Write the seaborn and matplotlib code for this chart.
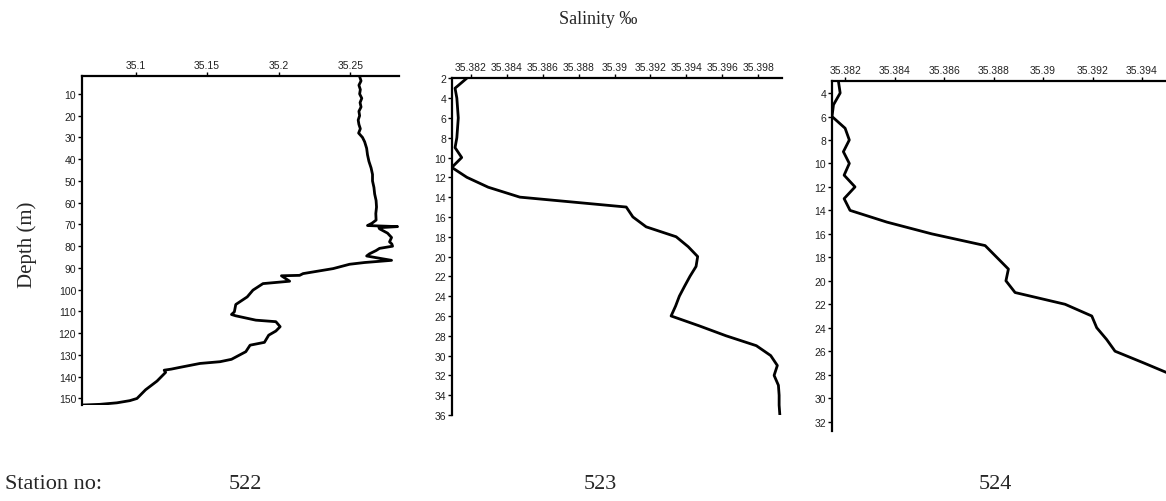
import matplotlib
matplotlib.use("Agg")
import matplotlib.pyplot as plt
import seaborn as sns

# ---------------- data ----------------
# Station 522
depth_522 = [2, 4, 6, 8, 10, 12, 14, 16, 18, 20, 22, 24, 26, 28, 30, 32, 35, 38, 41, 44,
             47, 50, 53, 56, 59, 62, 65, 68, 69.5, 70.5, 71, 71.5, 72, 74, 76, 78, 79, 80,
             81, 82, 83.5, 84.5, 85.5, 86.5, 87.5, 88.3, 90.3, 92.6, 93.4, 93.6, 96.1, 97.2,
             100.2, 103.3, 106.8, 110.2, 111.4, 112, 114, 114.7, 117, 119, 120.9, 124.2,
             125.5, 128.5, 132, 133.1, 133.9, 135.7, 136.5, 137, 138, 140, 142, 144, 146,
             148, 150, 151, 152, 152.7, 153]
sal_522 = [35.2565, 35.2575, 35.2560, 35.2570, 35.2565, 35.2580, 35.2568, 35.2575, 35.2560,
           35.2565, 35.2555, 35.2560, 35.2570, 35.2558, 35.2585, 35.2600, 35.2614, 35.2620,
           35.2630, 35.2645, 35.2655, 35.2655, 35.2665, 35.2670, 35.2680, 35.2683, 35.2678,
           35.2680, 35.2650, 35.2620, 35.2830, 35.2700, 35.2704, 35.2760, 35.2788, 35.2774,
           35.2790, 35.2795, 35.2704, 35.2680, 35.2634, 35.2614, 35.2700, 35.2788, 35.2600,
           35.2495, 35.2380, 35.2170, 35.2146, 35.2019, 35.2076, 35.1890, 35.1820, 35.1780,
           35.1700, 35.1690, 35.1670, 35.1700, 35.1840, 35.1980, 35.2010, 35.1980, 35.1930,
           35.1900, 35.1800, 35.1770, 35.1670, 35.1590, 35.1450, 35.1310, 35.1250, 35.1200,
           35.1210, 35.1180, 35.1150, 35.1110, 35.1070, 35.1040, 35.1010, 35.0960, 35.0870,
           35.0750, 35.0630]

# Station 523
depth_523 = [2, 3, 4, 5, 6, 7, 8, 9, 10, 11, 12, 13, 14, 15, 16, 17, 18, 19, 20, 21, 22,
             23, 24, 25, 26, 27, 28, 29, 30, 31, 32, 33, 34, 35, 36]
sal_523 = [35.38176, 35.38111, 35.38121, 35.38125, 35.38129, 35.38125, 35.38121, 35.38111,
           35.38148, 35.38093, 35.38177, 35.38296, 35.38472, 35.39065, 35.39102, 35.39176,
           35.39343, 35.39410, 35.39463, 35.39454, 35.39420, 35.39390, 35.39361, 35.39340,
           35.39315, 35.39472, 35.39621, 35.39790, 35.39870, 35.39907, 35.39889, 35.39913,
           35.39917, 35.39917, 35.39921]

# Station 524
depth_524 = [3, 4, 5, 6, 7, 8, 9, 10, 11, 12, 13, 14, 15, 16, 17, 18, 19, 20, 21, 22, 23,
             24, 25, 26, 27, 28]
sal_524 = [35.38173, 35.38180, 35.38153, 35.38147, 35.38200, 35.38217, 35.38193, 35.38217,
           35.38196, 35.38240, 35.38196, 35.38220, 35.38369, 35.38550, 35.38766, 35.38813,
           35.38860, 35.38850, 35.38887, 35.39089, 35.39197, 35.39217, 35.39257, 35.39291,
           35.39407, 35.39520]

xticks_522 = [35.1, 35.15, 35.2, 35.25]
xlabels_522 = ["35.1", "35.15", "35.2", "35.25"]
yticks_522 = [10, 20, 30, 40, 50, 60, 70, 80, 90, 100, 110, 120, 130, 140, 150]

xticks_523 = [35.382, 35.384, 35.386, 35.388, 35.39, 35.392, 35.394, 35.396, 35.398]
xlabels_523 = ["35.382", "35.384", "35.386", "35.388", "35.39", "35.392", "35.394",
               "35.396", "35.398"]
yticks_523 = [2, 4, 6, 8, 10, 12, 14, 16, 18, 20, 22, 24, 26, 28, 30, 32, 34, 36]

xticks_524 = [35.382, 35.384, 35.386, 35.388, 35.39, 35.392, 35.394]
xlabels_524 = ["35.382", "35.384", "35.386", "35.388", "35.39", "35.392", "35.394"]
yticks_524 = [4, 6, 8, 10, 12, 14, 16, 18, 20, 22, 24, 26, 28, 30, 32]

stations = ["522", "523", "524"]

# ---------------- figure ----------------
sns.set_style("ticks")
plt.rcParams['font.family'] = ['Liberation Sans', 'DejaVu Sans']

W, H = 1166, 502
fig = plt.figure(figsize=(W / 100, H / 100), dpi=100)


def px_axes(left, right, top, bottom):
    return [left / W, 1 - bottom / H, (right - left) / W, (bottom - top) / H]


panels = [
    dict(rect=px_axes(82, 399, 77.3, 406), depth=depth_522, sal=sal_522,
         xlim=(35.0626, 35.284), ylim=(153, 1.9),
         xt=xticks_522, xl=xlabels_522, yt=yticks_522),
    dict(rect=px_axes(452, 782, 79.3, 416), depth=depth_523, sal=sal_523,
         xlim=(35.38094, 35.39933), ylim=(36, 2),
         xt=xticks_523, xl=xlabels_523, yt=yticks_523),
    dict(rect=px_axes(832, 1166, 82.3, 432), depth=depth_524, sal=sal_524,
         xlim=(35.38147, 35.39497), ylim=(32.8, 3),
         xt=xticks_524, xl=xlabels_524, yt=yticks_524),
]

for p in panels:
    ax = fig.add_axes(p["rect"])
    sns.lineplot(x=p["sal"], y=p["depth"], ax=ax, color="black", linewidth=2.0,
                 estimator=None, sort=False)
    ax.set_xlim(*p["xlim"])
    ax.set_ylim(*p["ylim"])
    ax.xaxis.tick_top()
    ax.set_xticks(p["xt"])
    ax.set_xticklabels(p["xl"])
    ax.set_yticks(p["yt"])
    ax.set_yticklabels([str(v) for v in p["yt"]])
    for side in ["right", "bottom"]:
        ax.spines[side].set_visible(False)
    for side in ["top", "left"]:
        ax.spines[side].set_linewidth(1.6)
        ax.spines[side].set_color("black")
    ax.tick_params(axis="x", top=True, bottom=False, labeltop=True, labelbottom=False,
                   direction="out", length=3, width=1, labelsize=7.5, pad=1.5,
                   colors="black", labelcolor="#222222")
    ax.tick_params(axis="y", left=True, direction="out", length=3, width=1,
                   labelsize=7.5, pad=1.2, colors="black", labelcolor="#222222")
    ax.set_xlabel("")
    ax.set_ylabel("")
    ax.set_facecolor("white")

serif = ["Liberation Serif", "DejaVu Serif"]
fig.text(598 / W, 1 - 20 / H, "Salinity \u2030", ha="center", va="center",
         fontsize=13, family=serif)
fig.text(27 / W, 1 - 245 / H, "Depth (m)", ha="center", va="center", rotation=90,
         fontsize=15, family=serif)
fig.text(5 / W, 1 - 485 / H, "Station no:", ha="left", va="center", fontsize=16,
         family=serif)
for xpx, name in zip([245, 600, 995], stations):
    fig.text(xpx / W, 1 - 485 / H, name, ha="center", va="center", fontsize=16,
             family=serif)

fig.savefig("out.png", dpi=100, facecolor="white")
